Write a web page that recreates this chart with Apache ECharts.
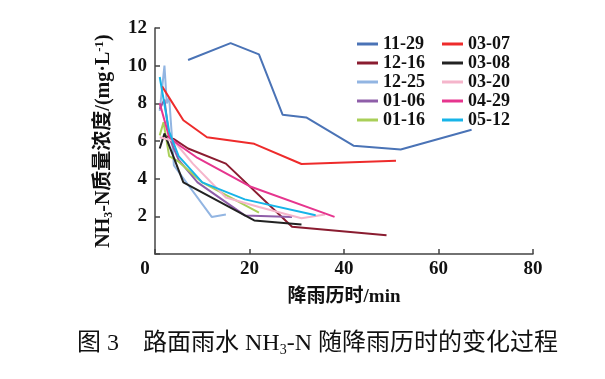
<!DOCTYPE html>
<html><head><meta charset="utf-8">
<script src="https://cdn.jsdelivr.net/npm/echarts@6/dist/echarts.min.js"></script>
<style>html,body{margin:0;padding:0;background:#fff}#c{width:605px;height:379px}</style>
</head><body><div id="c"></div>
<script>
// ---- data (x: rainfall duration in min, y: NH3-N mg/L) ----
const names = ['11-29','12-16','12-25','01-06','01-16','03-07','03-08','03-20','04-29','05-12'];
const colors = ['#4a73b6','#8a1c30','#92b5e2','#8f5ea9','#a9cf58','#ee2b2b','#222222','#f5b5cb','#e6358e','#17b4e8'];
const d1129 = [[7,10.3],[16,11.2],[22,10.6],[27,7.4],[32,7.25],[42,5.75],[52,5.55],[67,6.6]];
const d1216 = [[2,6.3],[4,6.1],[7,5.6],[15,4.8],[29,1.45],[49,1.0]];
const d1225 = [[1,7.6],[2,10],[2.5,8.0],[3,8.3],[4,4.7],[12,1.97],[15,2.1]];
const d0106 = [[1,7.7],[2,8.2],[3,6.2],[5,5.0],[9,3.8],[19,2.05],[29,1.97]];
const d0116 = [[1,6.3],[1.8,7.0],[3,5.2],[5,4.9],[10,3.8],[22,2.2]];
const d0307 = [[1.5,8.9],[6,7.1],[11,6.2],[21,5.85],[31,4.78],[51,4.95]];
const d0308 = [[1,5.6],[2,6.4],[6,3.8],[21,1.78],[31,1.56]];
const d0320 = [[1,6.2],[4,6.0],[8,4.8],[15,3.0],[22,2.5],[31,1.9],[36,2.1]];
const d0429 = [[1,8.0],[3,6.2],[5,5.8],[9,5.1],[20,3.6],[38,1.97]];
const d0512 = [[1,9.4],[3,6.5],[5,5.2],[10,3.8],[19,2.9],[34,2.06]];
const allData = [d1129,d1216,d1225,d0106,d0116,d0307,d0308,d0320,d0429,d0512];
const xTicks = {min:0, max:80, interval:20};
const yTicks = {min:0, max:12, interval:2};

const LAT = "'Liberation Serif','Noto Sans CJK SC',serif";
const chart = echarts.init(document.getElementById('c'), null, {renderer:'canvas'});
const legendCommon = {
  orient:'vertical', top:35, padding:0, itemWidth:21, itemHeight:3, itemGap:1, icon:'rect',
  textStyle:{fontFamily:LAT, fontWeight:'bold', fontSize:18, color:'#111', lineHeight:17}
};
chart.setOption({
  animation:false,
  backgroundColor:'#fff',
  grid:{left:155, right:72, top:28, bottom:125, containLabel:false},
  legend:[
    Object.assign({left:357, data:names.slice(0,5)}, legendCommon),
    Object.assign({left:442, data:names.slice(5)}, legendCommon)
  ],
  xAxis:{
    type:'value', min:xTicks.min, max:xTicks.max, interval:xTicks.interval,
    name:'降雨历时/min', nameLocation:'middle', nameGap:34,
    nameTextStyle:{fontFamily:LAT, fontWeight:'bold', fontSize:19, color:'#111'},
    axisLine:{lineStyle:{color:'#444', width:1.5}},
    axisTick:{inside:true, length:5, lineStyle:{color:'#444', width:1.5}},
    splitLine:{show:false},
    axisLabel:{fontFamily:LAT, fontWeight:'bold', fontSize:19, color:'#111', margin:6,
      formatter:v=> v===0 ? '{z|0}' : String(v),
      rich:{z:{padding:[0,20,0,0], fontFamily:LAT, fontWeight:'bold', fontSize:19, color:'#111'}}}
  },
  yAxis:{
    type:'value', min:yTicks.min, max:yTicks.max, interval:yTicks.interval,
    name:'NH{sub|3}-N质量浓度/(mg·L{sup|-1})', nameLocation:'middle', nameGap:40,
    nameTextStyle:{fontFamily:LAT, fontWeight:'bold', fontSize:20, color:'#111',
      rich:{sub:{fontSize:12, fontWeight:'bold', fontFamily:LAT, verticalAlign:'bottom', padding:[9,0,0,0]},
            sup:{fontSize:13, fontWeight:'bold', fontFamily:LAT, verticalAlign:'top', padding:[0,0,9,0]}}},
    axisLine:{show:true, lineStyle:{color:'#444', width:1.5}},
    axisTick:{show:true, inside:true, length:5, lineStyle:{color:'#444', width:1.5}},
    splitLine:{show:false},
    axisLabel:{fontFamily:LAT, fontWeight:'bold', fontSize:19, color:'#111', margin:8,
      formatter:v=> v===0 ? '' : String(v)}
  },
  series: names.map((n,i)=>({
    name:n, type:'line', data:allData[i], symbol:'none', showSymbol:false,
    color:colors[i], lineStyle:{width:2, color:colors[i]}, z: i===0?3:2
  })),
  graphic:[{
    type:'text', left:77, top:332,
    style:{
      text:'图 3　路面雨水 NH{s|3}-N 随降雨历时的变化过程',
      font:"24px 'Liberation Serif','Noto Sans CJK SC',serif",
      fill:'#111',
      rich:{s:{fontSize:14, fontFamily:LAT, padding:[12,0,0,0], verticalAlign:'bottom'}}
    }
  }]
});
</script></body></html>
